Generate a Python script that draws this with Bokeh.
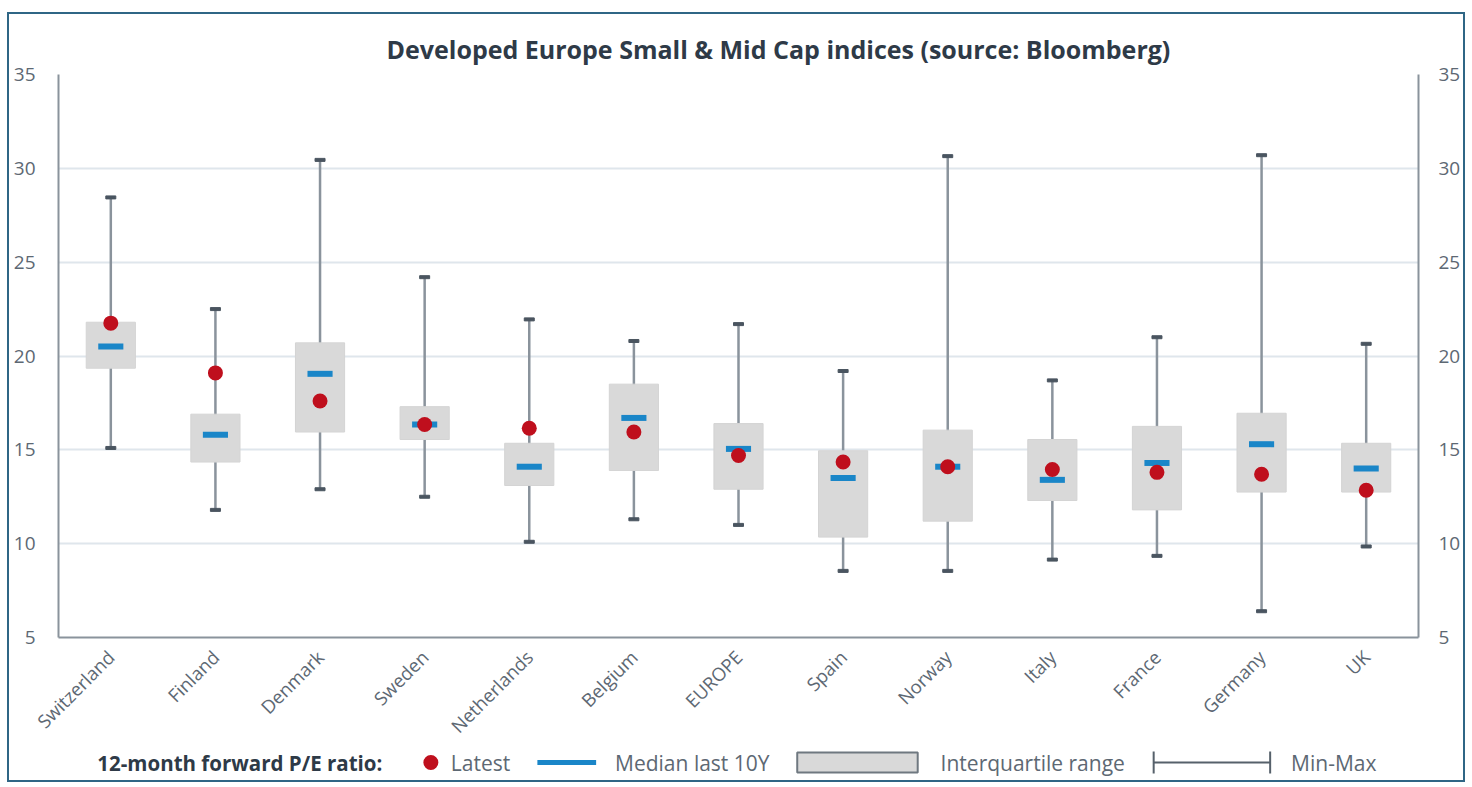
import math
from bokeh.plotting import figure
from bokeh.models import FactorRange, Range1d, LinearAxis, FixedTicker, ColumnDataSource
from bokeh.layouts import column
from bokeh.core.properties import value
from bokeh.embed import file_html
from bokeh.resources import INLINE

categories = ["Switzerland", "Finland", "Denmark", "Sweden", "Netherlands", "Belgium",
              "EUROPE", "Spain", "Norway", "Italy", "France", "Germany", "UK"]
latest = [21.75, 19.1, 17.6, 16.35, 16.15, 15.95, 14.7, 14.35, 14.1, 13.95, 13.8, 13.7, 12.85]
median_10y = [20.5, 15.8, 19.05, 16.35, 14.1, 16.7, 15.05, 13.5, 14.1, 13.4, 14.3, 15.3, 14.0]
q1 = [19.35, 14.35, 15.95, 15.55, 13.1, 13.9, 12.9, 10.35, 11.2, 12.3, 11.8, 12.75, 12.75]
q3 = [21.8, 16.9, 20.7, 17.3, 15.35, 18.5, 16.4, 14.95, 16.05, 15.55, 16.25, 16.95, 15.35]
vmin = [15.1, 11.8, 12.9, 12.5, 10.1, 11.3, 11.0, 8.55, 8.55, 9.15, 9.35, 6.4, 9.85]
vmax = [28.45, 22.5, 30.45, 24.2, 21.95, 20.8, 21.7, 19.2, 30.65, 18.7, 21.0, 30.7, 20.65]
y_ticks = [5, 10, 15, 20, 25, 30, 35]

FONT = "Open Sans"
TXT = "#5d6873"
DARK = "#2e3a47"
AXIS = "#8a939c"
GRID = "#dfe6ec"
BOXC = "#d9d9d9"
BLUE = "#1a86c8"
RED = "#bf0f1d"
CAP = "#4a5560"

src = ColumnDataSource(dict(cat=categories, latest=latest, med=median_10y,
                            q1=q1, q3=q3, lo=vmin, hi=vmax))

W = 1454
MAIN_H = 738
LEG_H = 36
OVERLAP = 8
ML, MR = 49, 39

p = figure(x_range=FactorRange(*categories), y_range=Range1d(5, 35),
           width=W, height=MAIN_H, output_backend="svg", toolbar_location=None,
           min_border_left=ML, min_border_right=MR, min_border_top=60,
           min_border_bottom=MAIN_H - 623)
p.title.text = "Developed Europe Small & Mid Cap indices (source: Bloomberg)"
p.title.align = "left"
p.title.text_font = FONT
p.title.text_font_size = "25px"
p.title.text_color = DARK
p.title.text_font_style = "bold"
p.title.offset = 328
p.title.standoff = 18
p.outline_line_color = None
p.background_fill_color = "white"
p.border_fill_color = "white"

p.ygrid.ticker = FixedTicker(ticks=y_ticks)
p.ygrid.grid_line_color = GRID
p.ygrid.grid_line_width = 2
p.xgrid.grid_line_color = None

p.yaxis[0].ticker = FixedTicker(ticks=y_ticks)
right = LinearAxis(ticker=FixedTicker(ticks=y_ticks))
p.add_layout(right, "right")

for ax in [p.yaxis[0], right, p.xaxis[0]]:
    ax.axis_line_color = AXIS
    ax.axis_line_width = 2
    ax.major_tick_line_color = None
    ax.minor_tick_line_color = None
    ax.major_label_text_font = FONT
    ax.major_label_text_color = TXT
    ax.major_label_text_font_size = "19px"
p.yaxis[0].major_label_standoff = 17
right.major_label_standoff = 14
p.xaxis[0].major_label_orientation = math.pi / 4
p.xaxis[0].major_label_standoff = 10
p.xaxis[0].major_label_text_font_size = "18.5px"

# whiskers and caps
p.segment(x0="cat", y0="lo", x1="cat", y1="hi", source=src, line_color=AXIS, line_width=2.5)
p.rect(x="cat", y="hi", width=10, height=3, width_units="screen", height_units="screen",
       source=src, fill_color=CAP, line_color=CAP)
p.rect(x="cat", y="lo", width=10, height=3, width_units="screen", height_units="screen",
       source=src, fill_color=CAP, line_color=CAP)
# interquartile boxes
p.vbar(x="cat", bottom="q1", top="q3", width=0.47, source=src,
       fill_color=BOXC, line_color="#d4d4d4", line_width=1)
# medians
p.rect(x="cat", y="med", width=0.24, height=6, height_units="screen", source=src,
       fill_color=BLUE, line_color=None)
# latest
p.scatter(x="cat", y="latest", size=15, source=src, fill_color=RED, line_color=None)

# legend strip (x in page pixels across the aligned plot frame)
L = figure(width=W, height=LEG_H, x_range=Range1d(58, 1424), y_range=Range1d(0, LEG_H),
           output_backend="svg", toolbar_location=None,
           min_border_left=ML, min_border_right=MR, min_border_top=0, min_border_bottom=0,
           styles={"margin-top": f"-{OVERLAP}px"})
L.axis.visible = False
L.grid.visible = False
L.outline_line_color = None
L.border_fill_color = None
L.background_fill_color = None
ly = 18
L.text(x=[97], y=[ly], text=["12-month forward P/E ratio:"], text_font=value(FONT),
       text_font_size="20.5px", text_font_style="bold", text_color=DARK,
       text_baseline="middle")
L.scatter(x=[432], y=[ly], size=15, fill_color=RED, line_color=None)
L.text(x=[452], y=[ly], text=["Latest"], text_font=value(FONT), text_font_size="21px",
       text_color=TXT, text_baseline="middle")
L.segment(x0=[539], y0=[ly], x1=[598], y1=[ly], line_color=BLUE, line_width=5)
L.text(x=[617], y=[ly], text=["Median last 10Y"], text_font=value(FONT), text_font_size="21px",
       text_color=TXT, text_baseline="middle")
L.quad(left=[800], right=[921], bottom=[ly - 10], top=[ly + 10], fill_color=BOXC,
       line_color="#6f7880", line_width=2)
L.text(x=[944], y=[ly], text=["Interquartile range"], text_font=value(FONT), text_font_size="21px",
       text_color=TXT, text_baseline="middle")
L.segment(x0=[1158], y0=[ly], x1=[1275], y1=[ly], line_color="#56616b", line_width=2)
L.segment(x0=[1158, 1275], y0=[ly - 11, ly - 11], x1=[1158, 1275], y1=[ly + 11, ly + 11],
          line_color="#56616b", line_width=2)
L.text(x=[1296], y=[ly], text=["Min-Max"], text_font=value(FONT), text_font_size="21px",
       text_color=TXT, text_baseline="middle")

lay = column(p, L, styles={"border": "2px solid #2f6685", "margin": "12px 0 0 7px"})
open("out.html", "w").write(file_html(lay, INLINE))
